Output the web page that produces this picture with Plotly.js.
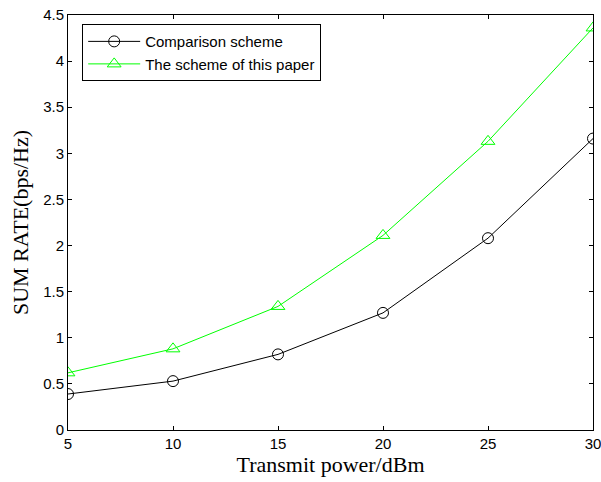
<!DOCTYPE html>
<html>
<head>
<meta charset="utf-8">
<script src="https://cdn.plot.ly/plotly-3.0.1.min.js"></script>
<style>html,body{margin:0;padding:0;background:#fff;}#chart{width:601px;height:482px;}</style>
</head>
<body>
<div id="chart"></div>
<script>
const power = [5, 10, 15, 20, 25, 30];
const comparison = [0.39, 0.53, 0.82, 1.27, 2.08, 3.16];
const proposed = [0.62, 0.88, 1.34, 2.11, 3.13, 4.36];
const seriesNames = ["Comparison scheme", "The scheme of this paper"];
const xTicks = [5, 10, 15, 20, 25, 30];
const yTicks = [0, 0.5, 1, 1.5, 2, 2.5, 3, 3.5, 4, 4.5];

const traces = [
  {x: power, y: comparison, name: seriesNames[0], mode: "lines+markers",
   line: {color: "#000000", width: 1},
   marker: {symbol: "circle-open", size: 11, color: "#000000", line: {width: 1}}},
  {x: power, y: proposed, name: seriesNames[1], mode: "lines+markers",
   line: {color: "#00ff00", width: 1},
   marker: {symbol: "triangle-up-open", size: 12, color: "#00ff00", line: {width: 1}}}
];

const axisCommon = {
  showgrid: false, zeroline: false, showline: true, mirror: "ticks",
  linecolor: "#000", linewidth: 1, ticks: "inside", ticklen: 4, tickcolor: "#000",
  ticklabeloverflow: "allow",
  tickfont: {family: "Liberation Sans, Arial, sans-serif", size: 15, color: "#000"}
};

const layout = {
  width: 601, height: 482,
  margin: {l: 68, r: 8, t: 15, b: 52},
  paper_bgcolor: "#fff", plot_bgcolor: "#fff",
  showlegend: true,
  legend: {x: 0.027, y: 0.978, xanchor: "left", yanchor: "top",
    bgcolor: "#fff", bordercolor: "#000", borderwidth: 1,
    itemwidth: 52,
    font: {family: "Liberation Sans, Arial, sans-serif", size: 15, color: "#000"},
    tracegroupgap: 0},
  xaxis: Object.assign({}, axisCommon, {range: [5, 30], tickvals: xTicks,
    title: {text: "Transmit power/dBm", standoff: 4,
      font: {family: "Liberation Serif, Times New Roman, serif", size: 22, color: "#000"}}}),
  yaxis: Object.assign({}, axisCommon, {range: [0, 4.5], tickvals: yTicks,
    ticktext: yTicks.map(v => String(v)),
    title: {text: "SUM RATE(bps/Hz)", standoff: 8,
      font: {family: "Liberation Serif, Times New Roman, serif", size: 22, color: "#000"}}})
};

Plotly.newPlot("chart", traces, layout, {displayModeBar: false, staticPlot: true});
</script>
</body>
</html>
